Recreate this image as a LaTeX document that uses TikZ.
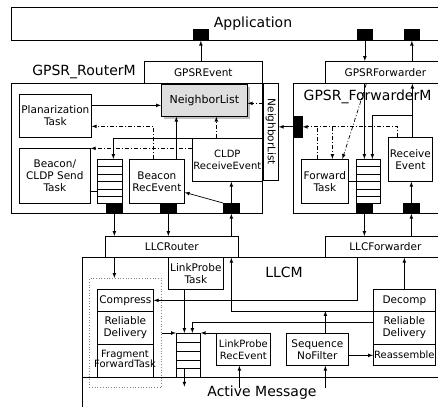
\documentclass[tikz,border=0pt]{standalone}
\usepackage{fontspec}
\setmainfont{DejaVu Sans}
\usetikzlibrary{shadows,calc}

\begin{document}
\begin{tikzpicture}[x=1pt, y=-1pt, >=latex, line width=0.7pt,
    box/.style={draw, rectangle, inner sep=0pt, align=center, anchor=north west,
      font=\fontsize{10.5}{12}\selectfont},
    sz/.style 2 args={minimum width=#1pt, minimum height=#2pt},
    port/.style={draw, fill=black, rectangle, inner sep=0pt, anchor=north west},
    iface/.style={font=\fontsize{10.5}{12}\selectfont},
    narrow/.style={font=\fontsize{10}{12}\selectfont},
    title/.style={font=\fontsize{14}{16}\selectfont},
    ctl/.style={dash pattern=on 4pt off 2pt on 1pt off 2pt},
    cell/.style={line width=0.6pt}
  ]
  \clip (0,0) rectangle (438,406);

  % application layer
  \node[box, sz={434}{33}] (app) at (11,7) {};
  \node[title] (applbl) at (253,24) {Application};
  \node[port, sz={15}{11}] (p1) at (193,29) {};
  \node[port, sz={15}{11}] (p2) at (357,29) {};
  \node[port, sz={15}{11}] (p3) at (404,29) {};

  % GPSR modules
  \node[box, iface, sz={118}{22}] (gpsrevent) at (144,61) {GPSREvent};
  \node[box, iface, sz={120}{22}] (gpsrfwd) at (325,61) {GPSRForwarder};
  \node[title] (routerlbl) at (84,72) {GPSR\_RouterM};
  \node[box, sz={251}{130}] (router) at (11,83) {};
  \node[box, sz={152}{130}] (fwdm) at (293,83) {};
  \node[title, anchor=west] (fwdlbl) at (300,97) {GPSR\_ForwarderM};

  \node[box, sz={86}{32}, fill=gray!25, font=\fontsize{11}{12}\selectfont,
    drop shadow={shadow xshift=2.5pt, shadow yshift=-2.5pt}] (nbrlist) at (161,84) {NeighborList};
  \node[box, sz={15}{97}] (nbrif) at (263,83) {};
  \node[rotate=-90, iface] (nbriflbl) at (nbrif.center) {NeighborList};
  \node[box, sz={72}{43}] (plan) at (19,94) {Planarization\\Task};
  \node[box, sz={71}{55}] (send) at (19,148) {Beacon/\\CLDP Send\\Task};
  \node[box, sz={25}{44}] (rq) at (97,159) {};
  \node[port, sz={16}{10}] (rport) at (106,203) {};
  \node[box, sz={55}{44}] (brec) at (129,159) {Beacon\\RecEvent};
  \node[port, sz={16}{10}] (bport) at (160,203) {};
  \node[box, narrow, sz={70}{43}] (cldp) at (192,138) {CLDP\\ReceiveEvent};
  \node[port, sz={16}{10}] (cport) at (223,203) {};

  \node[port, sz={9}{21}] (fport) at (293,116) {};
  \node[box, sz={47}{44}] (ftask) at (301,159) {Forward\\Task};
  \node[box, sz={24}{44}] (fq) at (356,159) {};
  \node[port, sz={16}{10}] (fqport) at (356,203) {};
  \node[box, sz={44}{44}] (frec) at (388,137) {Receive\\Event};
  \node[port, sz={16}{10}] (frport) at (403,203) {};

  % link layer
  \node[box, iface, sz={133}{21}] (llcr) at (105,236) {LLCRouter};
  \node[box, iface, sz={120}{21}] (llcf) at (325,236) {LLCForwarder};
  \node[box, sz={370}{200}] (llcm) at (82,257) {};
  \node[title] (llcmlbl) at (284,272) {LLCM};
  \node[box, sz={55}{32}] (lptask) at (168,257) {LinkProbe\\Task};
  \node[box, draw=gray, dotted, sz={72}{109}] (dotbox) at (89,278) {};
  \node[box, sz={56}{22}] (compress) at (97,289) {Compress};
  \node[box, sz={56}{33}] (relleft) at (97,311) {Reliable\\Delivery};
  \node[box, sz={56}{33}] (frag) at (97,344) {};
  \node[align=center, inner sep=0pt, font=\fontsize{10}{10}\selectfont] (fraglbl) at (125,359) {Fragment\\ForwardTask};
  \node[box, sz={24}{44}] (lq) at (176,333) {};
  \node[box, narrow, sz={54}{32}] (lprec) at (216,333) {LinkProbe\\RecEvent};
  \node[box, sz={62}{32}] (seq) at (286,333) {Sequence\\NoFilter};
  \node[box, sz={62}{22}] (decomp) at (373,289) {Decomp};
  \node[box, sz={62}{33}] (relright) at (373,311) {Reliable\\Delivery};
  \node[box, narrow, sz={62}{21}] (reasm) at (373,344) {Reassemble};
  \draw (lq.south -| llcm.west) -- (lq.south -| llcm.east);
  \node[title] (amlbl) at (262,393) {Active Message};

  % queue cells
  \foreach \i in {1,...,5} {
    \draw[cell] ($(rq.north west)!\i/6!(rq.south west)$) -- ($(rq.north east)!\i/6!(rq.south east)$);
    \draw[cell] ($(fq.north west)!\i/6!(fq.south west)$) -- ($(fq.north east)!\i/6!(fq.south east)$);
  }
  \foreach \i in {1,...,4}
    \draw[cell] ($(lq.north west)!\i/5!(lq.south west)$) -- ($(lq.north east)!\i/5!(lq.south east)$);

  % to and from Application
  \draw[->] (p1.south |- gpsrevent.north) -- (p1.south);
  \draw[->] (p2.south) -- (p2.south |- gpsrfwd.north);
  \draw[->] (p3.south |- gpsrfwd.north) -- (p3.south);

  % router
  \draw[->] ([yshift=-5pt]nbrlist.west -| plan.east) -- ([yshift=-5pt]nbrlist.west);
  \draw[->, ctl] ([xshift=-3.5pt]brec.north) |- ([yshift=-10.5pt]plan.east);
  \draw[->, ctl] ([yshift=11.5pt]cldp.west) -- ([yshift=11.5pt]cldp.west -| send.east);
  \draw[->] (cldp.north west) -| ([xshift=3.5pt]rq.north);
  \draw[->] ([xshift=19.5pt]brec.north) -- ([xshift=19.5pt]brec.north |- nbrlist.south);
  \draw[->, ctl] ([xshift=-11pt]cldp.north) -- ([xshift=-11pt]cldp.north |- nbrlist.south);
  \draw[->, ctl] ([yshift=-3pt]nbrlist.east -| nbrif.west) -- ([yshift=-3pt]nbrlist.east);
  \draw ([yshift=-15.5pt]send.east) -- ([yshift=-15.5pt]send.east -| rq.west);
  \draw[->] (fport.west) -- (fport.west -| nbrif.east);

  % forwarder
  \draw[->, ctl] ([xshift=-13pt]frec.north) |- (fport.east);
  \draw[ctl] ([xshift=-7.5pt]ftask.north) -- ([xshift=-7.5pt]ftask.north |- fport.east);
  \draw[->, ctl] ([xshift=7.5pt]ftask.north |- fport.east) -- ([xshift=7.5pt]ftask.north);
  \draw[->, ctl] ([xshift=-19pt]gpsrfwd.south) -- ([xshift=17.5pt]ftask.north);
  \draw[->] ([xshift=-4pt]fq.north |- gpsrfwd.south) -- ([xshift=-4pt]fq.north);
  \draw[->] ([xshift=2pt]frec.north) -- ([xshift=2pt]frec.north |- gpsrfwd.south);
  \draw[->] ([xshift=2pt,yshift=22pt]frec.north) -| ([xshift=4pt]fq.north);
  \draw (ftask.east) -- (ftask.east -| fq.west);

  % ports and LLC
  \draw[->] (rport.south) -- (rport.south |- llcr.north);
  \draw[->] (bport.south) -- (bport.south |- llcr.north);
  \draw[->] (cport.south |- llcr.north) -- (cport.south);
  \draw[->] (cport.north) -- (cport.north |- cldp.south);
  \draw[->] (cport.north west) -- ([yshift=-11pt]brec.east);
  \draw[->] (fqport.south) -- (fqport.south |- llcf.north);
  \draw[->] (frport.south |- llcf.north) -- (frport.south);
  \draw[->] (frport.north) -- (frport.north |- frec.south);

  % LLCM
  \draw[->] (rport.south |- llcr.south) -- (rport.south |- dotbox.north);
  \draw[->] ([xshift=-28pt]llcf.south) |- (compress.east);
  \draw[->] (relright.north west) -| (cport.south |- llcr.south);
  \draw[->] ([xshift=8pt]seq.north) -- ([xshift=8pt]seq.north |- relright.north);
  \draw[->] ([yshift=5.5pt]relright.west) -| ([xshift=4pt]lq.north);
  \draw[->] ([xshift=-4pt]lq.north |- lptask.south) -- ([xshift=-4pt]lq.north);
  \draw[->] (dotbox.east |- lq.north) -- (lq.north west);
  \draw[->] (lprec.north west) -- (lq.north east);
  \draw[->] ([xshift=-4pt,yshift=10pt]lq.south) -- ++(0,19);
  \draw[<-] ([xshift=-4pt]lprec.south) -- ++(0,22);
  \draw[<-] ([xshift=8pt]seq.south) -- ++(0,22);
  \draw[->] ([yshift=-6pt]seq.east) -- ([yshift=-6pt]seq.east -| reasm.west);
  \draw[->] (decomp.north) -- (decomp.north |- llcf.south);
\end{tikzpicture}
\end{document}
